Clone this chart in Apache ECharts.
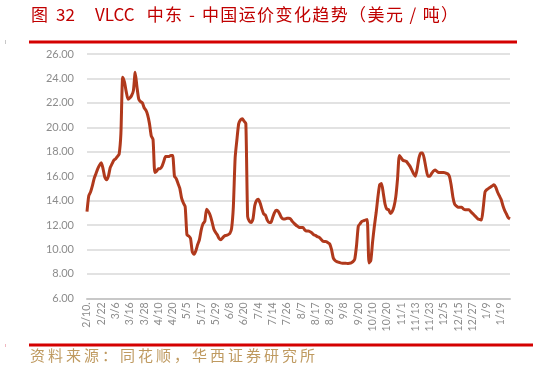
<!DOCTYPE html>
<html>
<head>
<meta charset="utf-8">
<script src="https://cdn.jsdelivr.net/npm/echarts@6/dist/echarts.min.js"></script>
<style>html,body{margin:0;padding:0;background:#fff;}#c{width:533px;height:371px;}</style>
</head>
<body>
<div id="c"></div>
<script>
const titlePrefix = '图';
const titleNumber = '32';
const titleShip = 'VLCC';
const titleMain = '中东-中国运价变化趋势（美元/吨）';
const sourceText = '资料来源：同花顺，华西证券研究所';
const tickLabels = ['2/10.','2/22','3/6','3/16','3/28','4/10','4/20','5/5','5/17','5/29','6/8','6/20','7/4','7/14','7/26','8/7','8/17','8/29','9/8','9/20','10/10','10/20','11/1','11/13','11/23','12/5','12/15','12/27','1/9','1/19'];
const pointsPerTick = 8;
const freightRate = [
  13.1,14.4,14.7,15.2,15.8,16.2,16.6,16.9,
  17.1,16.6,15.9,15.7,16.0,16.7,17.0,17.3,
  17.4,17.6,17.8,19.5,24.1,23.7,22.9,22.3,
  22.4,22.6,23.0,24.5,23.3,22.3,22.1,22.0,
  21.6,21.4,21.0,20.3,19.3,19.0,16.3,16.4,
  16.6,16.6,16.8,17.2,17.6,17.6,17.6,17.7,
  17.7,16.0,15.8,15.4,15.0,14.2,13.8,13.5,
  11.2,11.1,10.9,9.8,9.6,9.9,10.4,10.8,
  11.6,12.1,12.3,13.3,13.1,12.8,12.3,11.7,
  11.4,11.2,10.9,10.8,10.95,11.1,11.15,11.2,
  11.3,11.7,13.5,17.5,19.0,20.3,20.6,20.7,
  20.5,20.3,12.7,12.3,12.2,12.5,13.6,14.0,
  14.1,13.8,13.3,12.9,12.8,12.4,12.2,12.2,
  12.6,13.0,13.2,13.15,12.9,12.6,12.5,12.5,
  12.55,12.55,12.5,12.3,12.15,12.0,11.9,11.8,
  11.8,11.8,11.6,11.5,11.5,11.45,11.35,11.2,
  11.15,11.05,11.0,10.85,10.7,10.65,10.64,10.55,
  10.45,10.0,9.3,9.1,9.0,8.95,8.9,8.87,
  8.87,8.87,8.85,8.87,8.9,9.0,9.2,10.3,
  11.9,12.1,12.3,12.35,12.4,12.45,8.9,9.1,
  10.6,11.9,13.0,14.3,15.3,15.4,14.6,13.7,
  13.3,13.25,12.95,13.1,13.5,14.3,15.8,17.7,
  17.5,17.3,17.25,17.2,17.0,16.8,16.5,16.2,
  16.0,16.6,17.5,17.9,17.9,17.4,16.6,16.0,
  16.0,16.2,16.4,16.5,16.4,16.3,16.3,16.3,
  16.3,16.25,16.2,16.0,15.3,14.3,13.7,13.55,
  13.45,13.45,13.45,13.3,13.24,13.24,13.24,13.1,
  12.95,12.8,12.65,12.5,12.45,12.4,13.4,14.7,
  14.9,15.0,15.1,15.2,15.3,15.1,14.7,14.4,
  14.1,13.6,13.2,12.9,12.6,12.5
];
const yMin = 6, yMax = 26, yStep = 2;

const categories = freightRate.map((v, i) => {
  const k = Math.floor(i / pointsPerTick);
  return i % pointsPerTick === 0 ? tickLabels[k] : tickLabels[k] + '#' + (i % pointsPerTick);
});

// fixed-pitch rich text (each character in its own cell)
const cells = (s, style) => s.split('').map(ch => '{' + style + '|' + ch + '}').join('');
const titleRich = '{p|' + titlePrefix + '}{n|' + titleNumber + '}{v|' + titleShip + '}' + cells(titleMain, 'm');
const sourceRich = cells(sourceText, 's');

const chart = echarts.init(document.getElementById('c'), null, {renderer: 'canvas'});
const tFont = {fontFamily: '"Noto Sans CJK SC"', fontSize: 17, fontWeight: 'normal', color: '#c00000'};
chart.setOption({
  backgroundColor: '#ffffff',
  animation: false,
  title: [
    {
      text: titleRich, left: 31, top: 6, padding: 0,
      textStyle: {
        fontWeight: 'normal',
        rich: {
          p: Object.assign({width: 25, align: 'left'}, tFont),
          n: Object.assign({width: 39, align: 'left'}, tFont),
          v: Object.assign({width: 51, align: 'left'}, tFont),
          m: Object.assign({width: 18.4, align: 'center'}, tFont)
        }
      }
    },
    {
      text: sourceRich, left: 30, top: 348, padding: 0,
      textStyle: {
        fontWeight: 'normal',
        rich: {
          s: {width: 18, align: 'left', fontFamily: '"Noto Sans CJK SC"', fontSize: 15, fontWeight: 'normal', color: '#bf9a60'}
        }
      }
    }
  ],
  graphic: [
    {type: 'rect', shape: {x: 29, y: 40.5, width: 488, height: 3}, style: {fill: '#d40000'}},
    {type: 'rect', shape: {x: 29, y: 343.5, width: 504, height: 3}, style: {fill: '#d40000'}},
    {type: 'rect', shape: {x: 5, y: 40, width: 1, height: 4}, style: {fill: '#c8c8c8'}},
    {type: 'rect', shape: {x: 5, y: 344, width: 1, height: 3}, style: {fill: '#f0b8c0'}}
  ],
  grid: {left: 87, right: 23, top: 54, bottom: 72.7, containLabel: false},
  xAxis: {
    type: 'category',
    data: categories,
    boundaryGap: false,
    axisLine: {show: true, lineStyle: {color: '#c8c8c8', width: 2}},
    axisTick: {show: false},
    splitLine: {show: false},
    axisLabel: {
      interval: (idx) => idx % pointsPerTick === 0,
      hideOverlap: false,
      rotate: 90,
      margin: 4,
      color: '#8c8c8c',
      fontFamily: 'Lato',
      fontSize: 10.5,
      formatter: (v) => v
    }
  },
  yAxis: {
    type: 'value',
    min: yMin, max: yMax, interval: yStep,
    axisLine: {show: false},
    axisTick: {show: false},
    splitLine: {lineStyle: {color: '#d9d9d9', width: 1.5}},
    axisLabel: {
      color: '#8c8c8c', fontFamily: 'Lato', fontSize: 11, margin: 13,
      formatter: (v) => v.toFixed(2)
    }
  },
  series: [{
    type: 'line',
    data: freightRate,
    showSymbol: false,
    smooth: 0.2,
    lineStyle: {color: '#b0391c', width: 3},
    z: 5
  }]
});
</script>
</body>
</html>
